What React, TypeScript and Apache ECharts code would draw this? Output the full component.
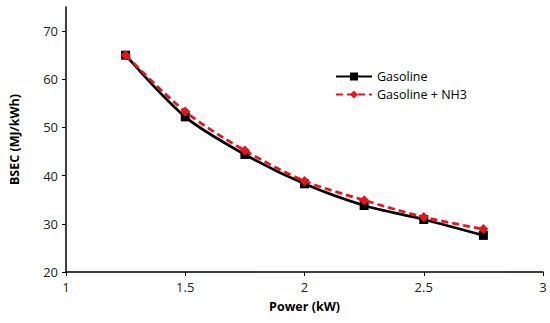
import React, { useEffect, useRef } from "react";
import * as echarts from "echarts";

const power = [1.25, 1.5, 1.75, 2.0, 2.25, 2.5, 2.75];
const gasoline = [65.0, 52.2, 44.4, 38.3, 33.8, 30.9, 27.6];
const gasolineNH3 = [65.0, 53.3, 45.2, 38.9, 34.9, 31.4, 28.9];
const seriesNames = ["Gasoline", "Gasoline + NH3"];

export default function App() {
  const ref = useRef<HTMLDivElement>(null);
  useEffect(() => {
    if (!ref.current) return;
    const chart = echarts.init(ref.current, null, { renderer: "svg" });
    const font = "'Open Sans', sans-serif";
    chart.setOption({
      animation: false,
      backgroundColor: "#fff",
      grid: { left: 61, right: 7, top: 7, bottom: 51 },
      legend: {
        orient: "vertical",
        left: 330,
        top: 65,
        itemWidth: 36,
        itemHeight: 10,
        itemGap: 5,
        textStyle: { fontFamily: font, fontSize: 12.5, color: "#000" },
        data: seriesNames,
      },
      xAxis: {
        type: "value",
        min: 1,
        max: 3,
        interval: 0.5,
        name: "Power (kW)",
        nameLocation: "middle",
        nameGap: 28,
        nameTextStyle: { fontFamily: font, fontSize: 12.5, fontWeight: "bold", color: "#000" },
        axisLine: { show: true, lineStyle: { color: "#000", width: 1.5 } },
        axisTick: { show: true, length: 4, lineStyle: { color: "#000" } },
        axisLabel: { fontFamily: font, fontSize: 13, color: "#222", margin: 8 },
        splitLine: { show: false },
      },
      yAxis: {
        type: "value",
        min: 20,
        max: 75,
        interval: 10,
        name: "BSEC (MJ/kWh)",
        nameLocation: "middle",
        nameGap: 45,
        nameTextStyle: { fontFamily: font, fontSize: 12.5, fontWeight: "bold", color: "#000" },
        axisLine: { show: true, lineStyle: { color: "#000", width: 1.5 } },
        axisTick: { show: true, length: 4, lineStyle: { color: "#000" } },
        axisLabel: { fontFamily: font, fontSize: 13, color: "#222", margin: 8, showMaxLabel: false },
        splitLine: { show: false },
      },
      series: [
        {
          name: seriesNames[0],
          type: "line",
          data: power.map((p, i) => [p, gasoline[i]]),
          smooth: 0.3,
          symbol: "rect",
          symbolSize: 9,
          itemStyle: { color: "#000" },
          lineStyle: { color: "#000", width: 2.75 },
          z: 2,
        },
        {
          name: seriesNames[1],
          type: "line",
          data: power.map((p, i) => [p, gasolineNH3[i]]),
          smooth: 0.3,
          symbol: "diamond",
          symbolSize: 10,
          itemStyle: { color: "#e8141c" },
          lineStyle: { color: "#e8141c", width: 2.75, type: [7, 4] },
          z: 3,
        },
      ],
    });
    return () => chart.dispose();
  }, []);
  return <div ref={ref} style={{ width: 550, height: 323, position: "absolute", left: 0, top: 0 }} />;
}
